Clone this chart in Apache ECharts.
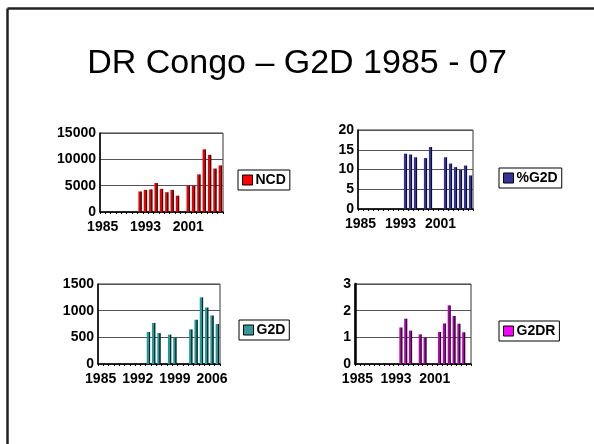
<!DOCTYPE html>
<html>
<head>
<meta charset="utf-8">
<script src="https://cdn.jsdelivr.net/npm/echarts@6/dist/echarts.min.js"></script>
<style>
  html, body { margin: 0; padding: 0; background: #fff; }
  #main { width: 594px; height: 444px; }
</style>
</head>
<body>
<div id="main"></div>
<script>
// years on the x axes (G2DR chart has one extra empty year)
const years = ['1985', '1986', '1987', '1988', '1989', '1990', '1991', '1992', '1993', '1994', '1995', '1996',
  '1997', '1998', '1999', '2000', '2001', '2002', '2003', '2004', '2005', '2006', '2007'];
const yearsG2DR = ['1985', '1986', '1987', '1988', '1989', '1990', '1991', '1992', '1993', '1994', '1995', '1996',
  '1997', '1998', '1999', '2000', '2001', '2002', '2003', '2004', '2005', '2006', '2007', '2008'];

const ncd = [null, null, null, null, null, null, null, 3900, 4200, 4300, 5500, 4400, 3750, 4200, 3100, null,
  5000, 5000, 7150, 11900, 10850, 8250, 8850];
const pctG2D = [null, null, null, null, null, null, null, null, null, 14.0, 13.8, 13.1, null, 12.9, 15.7, null,
  null, 13.1, 11.5, 10.6, 9.9, 11.0, 8.5];
const g2d = [null, null, null, null, null, null, null, null, null, 600, 770, 580, null, 550, 490, null,
  null, 650, 830, 1250, 1060, 910, 750];
const g2dr = [null, null, null, null, null, null, null, null, null, 1.37, 1.70, 1.25, null, 1.11, 0.99, null,
  null, 1.20, 1.52, 2.20, 1.80, 1.51, 1.19, null];

const FONT = "'Liberation Sans', Arial, sans-serif";

function barColor(face, dark) {
  return new echarts.graphic.LinearGradient(0, 0, 1, 0, [
    { offset: 0, color: face },
    { offset: 0.55, color: face },
    { offset: 0.62, color: dark },
    { offset: 1, color: '#000' }
  ]);
}

function grid(left, top, width, height) {
  return { left: left, top: top, width: width, height: height, show: true, borderColor: '#333', borderWidth: 1 };
}

function xAxis(idx, cats, every) {
  return {
    type: 'category', gridIndex: idx, data: cats,
    axisLine: { lineStyle: { color: '#000', width: 1.5 } },
    axisTick: { show: true, interval: 0, length: 2, lineStyle: { color: '#000' } },
    axisLabel: { interval: every, hideOverlap: false, color: '#000', fontWeight: 'bold', fontSize: 14, fontFamily: FONT, margin: 8 },
    splitLine: { show: false }
  };
}

function yAxis(idx, max, step, lw) {
  return {
    type: 'value', gridIndex: idx, min: 0, max: max, interval: step,
    axisLine: { show: true, lineStyle: { color: '#000', width: lw } },
    axisTick: { show: false },
    axisLabel: {
      color: '#000', fontWeight: 'bold', fontSize: 14, fontFamily: FONT, margin: 4,
      formatter: function (v) { return String(v); }
    },
    splitLine: { show: true, lineStyle: { color: '#555', width: 1 } }
  };
}

function legend(name, swatch, left, top) {
  return {
    data: [{ name: name, itemStyle: { color: swatch, borderColor: '#000', borderWidth: 1 } }],
    left: left, top: top, orient: 'vertical',
    icon: 'rect', itemWidth: 10, itemHeight: 10, itemGap: 2,
    padding: [3, 4], borderColor: '#000', borderWidth: 1,
    textStyle: { color: '#000', fontWeight: 'bold', fontSize: 14, fontFamily: FONT, padding: [0, 0, 0, -2] },
    selectedMode: false
  };
}

function bars(name, idx, data, face, dark) {
  return {
    name: name, type: 'bar', xAxisIndex: idx, yAxisIndex: idx, data: data,
    barWidth: '64%', animation: false,
    itemStyle: { color: barColor(face, dark) }
  };
}

const chart = echarts.init(document.getElementById('main'));
chart.setOption({
  backgroundColor: '#fff',
  title: {
    text: 'DR Congo – G2D 1985 - 07',
    left: 'center', top: 42,
    textStyle: { color: '#000', fontSize: 34, fontWeight: 'normal', fontFamily: FONT }
  },
  graphic: [
    { type: 'line', shape: { x1: 7.5, y1: 8.5, x2: 594, y2: 8.5 }, style: { stroke: '#222', lineWidth: 2.5 } },
    { type: 'line', shape: { x1: 7.5, y1: 8.5, x2: 7.5, y2: 444 }, style: { stroke: '#222', lineWidth: 2.5 } }
  ],
  legend: [
    legend('NCD', '#ff0000', 238, 170),
    legend('%G2D', '#333399', 499, 168),
    legend('G2D', '#339999', 239, 320),
    legend('G2DR', '#ff00ff', 499, 321)
  ],
  grid: [
    grid(100, 133, 123, 79),
    grid(358, 130, 115, 79),
    grid(98, 284, 122, 80),
    grid(355, 284, 116, 80)
  ],
  xAxis: [
    xAxis(0, years, 7),
    xAxis(1, years, 7),
    xAxis(2, years, 6),
    xAxis(3, yearsG2DR, 7)
  ],
  yAxis: [
    yAxis(0, 15000, 5000, 1.5),
    yAxis(1, 20, 5, 1.5),
    yAxis(2, 1500, 500, 1.5),
    yAxis(3, 3, 1, 2.5)
  ],
  series: [
    bars('NCD', 0, ncd, '#ee0000', '#800000'),
    bars('%G2D', 1, pctG2D, '#333399', '#1a1a4d'),
    bars('G2D', 2, g2d, '#1f9999', '#0a4d4d'),
    bars('G2DR', 3, g2dr, '#b000b0', '#550055')
  ]
});
</script>
</body>
</html>
